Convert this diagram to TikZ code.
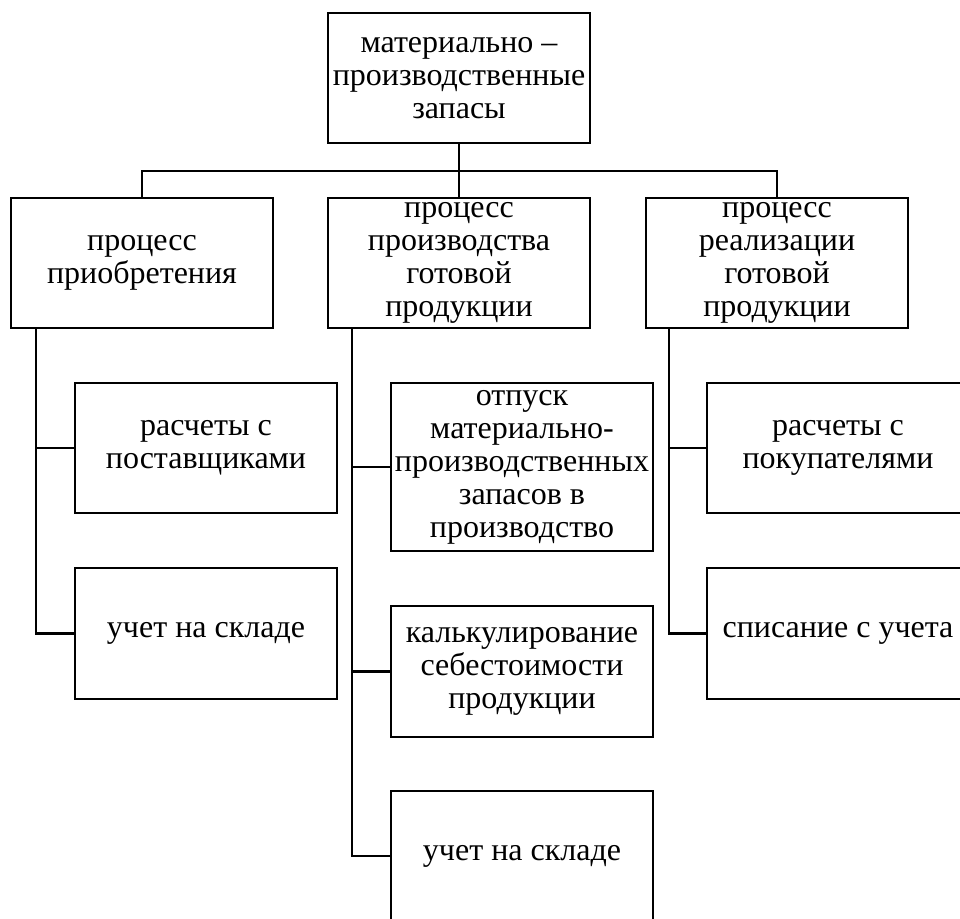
\documentclass[tikz,border=0pt]{standalone}
\usepackage{fontspec}
\setmainfont{Liberation Serif}
\usepackage{tikz}

\begin{document}
\begin{tikzpicture}[
  x=1pt,y=-1pt,
  font=\fontsize{32}{33}\selectfont,
  line width=2.2pt,
  box/.style={draw,align=center,inner sep=0pt,minimum width=262pt,minimum height=#1},
  box/.default=130pt,
  link/.style={line width=2.2pt}
]
\useasboundingbox (0,0) rectangle (960,918);
\node[box] (zap) at (459,78) {материально –\\ производственные\\ запасы};
\node[box] (priob) at (142,263) {процесс\\ приобретения};
\node[box] (proizv) at (459,263) {процесс\\ производства\\ готовой\\ продукции};
\node[box] (real) at (777,263) {процесс\\ реализации\\ готовой\\ продукции};
% ветвь приобретения
\node[box] (rpost) at (206,448) {расчеты с\\ поставщиками};
\node[box=131pt] (sklad1) at (206,633.5) {учет на складе};
% ветвь производства
\node[box=168pt] (otpusk) at (522,467) {отпуск\\ материально-\\ производственных\\ запасов в\\ производство};
\node[box=131pt] (kalk) at (522,671.5) {калькулирование\\ себестоимости\\ продукции};
\node[box] (sklad2) at (522,856) {учет на складе};
% ветвь реализации
\node[box] (rpok) at (838,448) {расчеты с\\ покупателями};
\node[box=131pt] (spis) at (838,633.5) {списание с учета};
\coordinate (bus) at (459,171);
\draw[link] (zap.south) -- (proizv.north);
\draw[link] (priob.north) |- (bus) -| (real.north);
\draw[link] ([xshift=26pt]priob.south west) |- (rpost.west);
\draw[link] ([xshift=26pt]priob.south west) |- (sklad1.west);
\draw[link] ([xshift=25pt]proizv.south west) |- (otpusk.west);
\draw[link] ([xshift=25pt]proizv.south west) |- (kalk.west);
\draw[link] ([xshift=25pt]proizv.south west) |- (sklad2.west);
\draw[link] ([xshift=24pt]real.south west) |- (rpok.west);
\draw[link] ([xshift=24pt]real.south west) |- (spis.west);
\end{tikzpicture}
\end{document}
